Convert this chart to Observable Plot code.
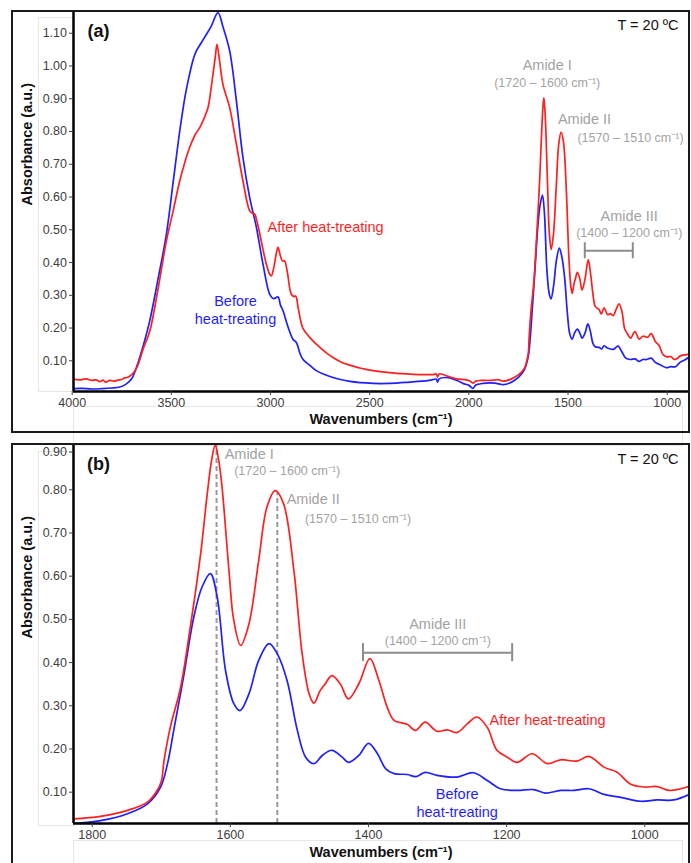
<!DOCTYPE html>
<html><head><meta charset="utf-8">
<script src="https://cdn.jsdelivr.net/npm/d3@7"></script>
<script src="https://cdn.jsdelivr.net/npm/@observablehq/plot@0.6"></script>
<style>
body{margin:0;background:#fff;}
#root{position:relative;width:691px;height:863px;overflow:hidden;background:#fff;font-family:"Liberation Sans",Arial,sans-serif;}
#root svg{position:absolute;left:0;overflow:visible;}
.box{position:absolute;box-sizing:border-box;pointer-events:none;}
</style></head><body><div id="root"></div>
<script>
// ---------- data ----------
const seriesNames = ["Before heat-treating", "After heat-treating"];
const seriesColors = ["#1f1fff", "#ff1f1f"];

const afterWn = [3993,3960,3930,3900,3880,3860,3845,3830,3810,3790,3770,3750,3735,3720,3700,3685,3670,3640,3609,3567,3525,3490,3458,3430,3408,3380,3357,3335,3315,3300,3290,3278,3270,3258,3240,3206,3172,3139,3105,3090,3080,3066,3054,3038,3021,3005,2996,2985,2970,2962,2950,2940,2929,2915,2895,2880,2873,2860,2837,2800,2769,2720,2685,2640,2600,2550,2483,2400,2315,2250,2180,2164,2158,2150,2100,2063,2000,1979,1965,1940,1895,1850,1827,1788,1749,1720,1706,1700,1696,1687,1672,1658,1643,1634,1627,1622,1617,1612,1602,1595,1585,1573,1559,1547,1535,1523,1508,1496,1486,1479,1470,1463,1453,1441,1429,1414,1398,1385,1373,1363,1344,1332,1318,1301,1286,1272,1257,1243,1228,1214,1199,1185,1163,1141,1122,1098,1081,1059,1040,1021,1001,982,965,948,934,910,893];
const afterAbs = [0.044,0.042,0.045,0.040,0.042,0.036,0.041,0.035,0.040,0.038,0.041,0.043,0.048,0.050,0.058,0.068,0.085,0.14,0.19,0.32,0.466,0.56,0.649,0.71,0.751,0.79,0.812,0.84,0.873,0.93,0.975,1.03,1.066,1.02,0.944,0.873,0.761,0.649,0.558,0.55,0.548,0.52,0.487,0.44,0.395,0.365,0.359,0.38,0.43,0.446,0.42,0.405,0.405,0.37,0.303,0.296,0.298,0.26,0.20,0.17,0.151,0.125,0.11,0.095,0.087,0.078,0.07,0.064,0.06,0.058,0.058,0.06,0.05,0.06,0.052,0.045,0.04,0.032,0.038,0.04,0.04,0.042,0.038,0.044,0.058,0.077,0.104,0.125,0.173,0.25,0.343,0.482,0.652,0.783,0.87,0.903,0.87,0.806,0.613,0.497,0.44,0.49,0.636,0.76,0.798,0.768,0.613,0.42,0.328,0.306,0.335,0.35,0.37,0.351,0.316,0.351,0.409,0.359,0.297,0.266,0.257,0.243,0.262,0.241,0.244,0.238,0.258,0.274,0.25,0.197,0.181,0.169,0.189,0.166,0.175,0.172,0.183,0.158,0.146,0.119,0.112,0.113,0.104,0.108,0.115,0.118,0.12];

const beforeWn = [3993,3950,3900,3850,3800,3760,3730,3700,3676,3640,3609,3567,3525,3490,3458,3430,3408,3390,3374,3350,3323,3300,3265,3240,3206,3172,3139,3105,3071,3038,3004,2985,2962,2950,2937,2910,2887,2870,2850,2837,2800,2769,2685,2600,2483,2400,2315,2200,2164,2158,2150,2114,2060,2030,2000,1979,1965,1929,1870,1827,1788,1749,1720,1701,1691,1682,1667,1653,1641,1629,1619,1607,1595,1586,1573,1559,1544,1532,1518,1503,1491,1479,1467,1453,1438,1429,1414,1400,1387,1375,1363,1344,1331,1318,1301,1272,1248,1228,1209,1185,1161,1144,1122,1103,1081,1059,1035,1006,982,958,934,910,893];
const beforeAbs = [0.015,0.016,0.014,0.015,0.017,0.02,0.028,0.045,0.08,0.15,0.222,0.35,0.487,0.65,0.80,0.91,0.975,1.02,1.046,1.07,1.097,1.12,1.163,1.12,1.046,0.893,0.72,0.598,0.507,0.395,0.303,0.29,0.295,0.27,0.253,0.2,0.166,0.156,0.12,0.105,0.085,0.07,0.049,0.037,0.031,0.031,0.034,0.04,0.044,0.035,0.045,0.049,0.04,0.031,0.025,0.016,0.026,0.031,0.032,0.027,0.034,0.05,0.073,0.112,0.166,0.243,0.374,0.505,0.575,0.606,0.551,0.382,0.305,0.289,0.328,0.405,0.444,0.42,0.359,0.243,0.181,0.166,0.185,0.197,0.181,0.169,0.185,0.213,0.189,0.154,0.143,0.141,0.136,0.146,0.139,0.135,0.145,0.127,0.108,0.104,0.106,0.098,0.104,0.104,0.108,0.095,0.088,0.079,0.082,0.082,0.096,0.103,0.11];

const xTicksA = [4000, 3500, 3000, 2500, 2000, 1500, 1000];
const yTicksA = [0.10, 0.20, 0.30, 0.40, 0.50, 0.60, 0.70, 0.80, 0.90, 1.00, 1.10];
const xTicksB = [1800, 1600, 1400, 1200, 1000];
const yTicksB = [0.10, 0.20, 0.30, 0.40, 0.50, 0.60, 0.70, 0.80, 0.90];

const amideNames = ["Amide I", "Amide II", "Amide III"];
const amideRanges = ["(1720 – 1600 cm⁻¹)", "(1570 – 1510 cm⁻¹)", "(1400 – 1200 cm⁻¹)"];
const xLabel = "Wavenumbers (cm⁻¹)";
const yLabel = "Absorbance (a.u.)";
const tempLabel = "T = 20 ºC";

// ---------- build ----------
const allData = [
  ...beforeWn.map((w, i) => ({wn: w, abs: beforeAbs[i], series: seriesNames[0]})),
  ...afterWn.map((w, i) => ({wn: w, abs: afterAbs[i], series: seriesNames[1]}))
];
const FONT = "Liberation Sans, Arial, sans-serif";
const GRAY = "#a3a3a3";
const root = document.getElementById("root");

function box(l, t, w, h, css) {
  const d = document.createElement("div");
  d.className = "box";
  Object.assign(d.style, {left: l + "px", top: t + "px", width: w + "px", height: h + "px"}, css);
  root.appendChild(d);
}

function makePanel(o) {
  const data = allData.filter(d => d.wn <= o.xDomain[0] + 5 && d.wn >= o.xDomain[1] - 5);
  const ySpan = o.yDomain[1] - o.yDomain[0];
  const pxY = (o.height - o.marginTop - o.marginBottom) / ySpan;
  const cap = o.capPx / pxY;
  const bigT = amideNames.map((t, i) => ({t, wn: o.bigPos[i][0], abs: o.bigPos[i][1]}));
  const smallT = amideRanges.map((t, i) => ({t, wn: o.smallPos[i][0], abs: o.smallPos[i][1]}));
  const topTick = o.yTicks[o.yTicks.length - 1];
  const axisOpts = {tickSize: 4, tickPadding: 2.5, tickFormat: d3.format(".2f"), label: null, fontSize: 12.5, fill: "#404040", stroke: "#404040"};
  const marks = [
    ...(o.dashes ? [Plot.ruleX(o.dashes, {x: "wn", y1: o.yDomain[0], y2: d => Math.min(d.top, o.yDomain[1]), stroke: "#9a9a9a", strokeWidth: 2, strokeDasharray: "5,3"})] : []),
    Plot.line(data, {x: "wn", y: "abs", z: "series", stroke: "series", strokeWidth: 1.7, curve: "catmull-rom", clip: true}),
    Plot.ruleX([o.xDomain[0]], {stroke: "#000", strokeWidth: 2.5}),
    Plot.ruleY([o.yDomain[0]], {stroke: "#000", strokeWidth: 2.5}),
    Plot.axisX(o.xTicks, {tickSize: 4, tickPadding: o.xPad, tickFormat: d => String(d), label: null, fontSize: 12.5, fill: "#404040", stroke: "#404040"}),
    Plot.axisY(o.yTicks.filter(t => t !== topTick), axisOpts),
    Plot.axisY([topTick], {...axisOpts, dy: o.topTickDy}),
    Plot.text([yLabel], {text: d => d, frameAnchor: "left", rotate: -90, dx: -46, dy: 4, fontWeight: "bold", fontSize: 14.5, fill: "#111"}),
    Plot.text([xLabel], {text: d => d, frameAnchor: "bottom", lineAnchor: "middle", dy: o.xLabelDy, fontWeight: "bold", fontSize: 14.5, fill: "#111"}),
    Plot.text([o.panel], {text: d => d, frameAnchor: "top-left", dx: 25, dy: o.panelDy, textAnchor: "middle", lineAnchor: "middle", fontWeight: "bold", fontSize: 18, fill: "#111"}),
    Plot.text([tempLabel], {text: d => d, frameAnchor: "top-right", dx: -10, dy: 14.3, textAnchor: "end", lineAnchor: "middle", fontSize: 14.5, fill: "#111"}),
    Plot.text(bigT, {x: "wn", y: "abs", text: "t", fontSize: 14.5, fill: GRAY, textAnchor: "middle"}),
    Plot.text(smallT, {x: "wn", y: "abs", text: "t", fontSize: 12.5, fill: GRAY, textAnchor: "middle"}),
    Plot.ruleY([o.bracket], {x1: d => d[0], x2: d => d[1], y: d => d[2], stroke: "#8c8c8c", strokeWidth: 2}),
    Plot.ruleX([o.bracket[0], o.bracket[1]], {x: d => d, y1: o.bracket[2] - cap, y2: o.bracket[2] + cap, stroke: "#8c8c8c", strokeWidth: 2}),
    Plot.text([seriesNames[1]], {text: d => d, x: o.afterPos[0], y: o.afterPos[1], textAnchor: "start", fontSize: 14.5, fill: seriesColors[1]}),
    Plot.text(["Before\nheat-treating"], {text: d => d, x: o.beforePos[0], y: o.beforePos[1], textAnchor: "middle", lineAnchor: "middle", lineHeight: 1.26, fontSize: 14.5, fill: seriesColors[0]})
  ];
  const svg = Plot.plot({
    width: 691, height: o.height,
    marginLeft: 73, marginRight: 3, marginTop: o.marginTop, marginBottom: o.marginBottom,
    style: {fontFamily: FONT, fontSize: "12.5px", color: "#404040", background: "transparent", overflow: "visible"},
    x: {domain: o.xDomain},
    y: {domain: o.yDomain},
    color: {domain: seriesNames, range: seriesColors},
    marks
  });
  svg.style.top = o.top + "px";
  root.appendChild(svg);
}

// faint helper boxes
box(38, 17, 36, 375, {border: "1px solid #e6e6e6"});
box(73, 406, 610, 40, {border: "1px solid #e6e6e6"});
box(38, 451, 36, 375, {border: "1px solid #e6e6e6"});
box(73, 840, 610, 40, {border: "1px solid #e6e6e6"});

makePanel({
  panel: "(a)", top: 0, height: 433, marginTop: 11, marginBottom: 42,
  xDomain: [3993.4, 892.6], yDomain: [0.0063, 1.1663],
  xTicks: xTicksA, yTicks: yTicksA, xPad: 2.5, xLabelDy: 27.5, panelDy: 20, topTickDy: 0,
  bigPos: [[1605, 1.003], [1417, 0.838], [1191.5, 0.542]],
  smallPos: [[1605, 0.949], [1185, 0.781], [1191.5, 0.490]],
  bracket: [1415.5, 1173.5, 0.436], capPx: 8,
  afterPos: [3015, 0.507], beforePos: [3176.6, 0.258]
});

makePanel({
  panel: "(b)", top: 433, height: 430, marginTop: 12, marginBottom: 40,
  xDomain: [1827.1, 936.7], yDomain: [0.0275, 0.9025],
  xTicks: xTicksB, yTicks: yTicksB, xPad: 3, xLabelDy: 29, panelDy: 18.3, topTickDy: 5.5,
  bigPos: [[1572.7, 0.883], [1480, 0.777], [1299.7, 0.488]],
  smallPos: [[1517.7, 0.843], [1415.2, 0.733], [1299.7, 0.449]],
  bracket: [1408, 1192, 0.423], capPx: 9,
  afterPos: [1224.8, 0.266], beforePos: [1271.6, 0.0773],
  dashes: [{wn: 1620, top: 0.95}, {wn: 1532, top: 0.794}]
});

// outer frames
box(11, 10, 679, 423, {border: "2px solid #1a1a1a"});
box(11, 443, 679, 500, {border: "2px solid #1a1a1a"});
</script></body></html>
